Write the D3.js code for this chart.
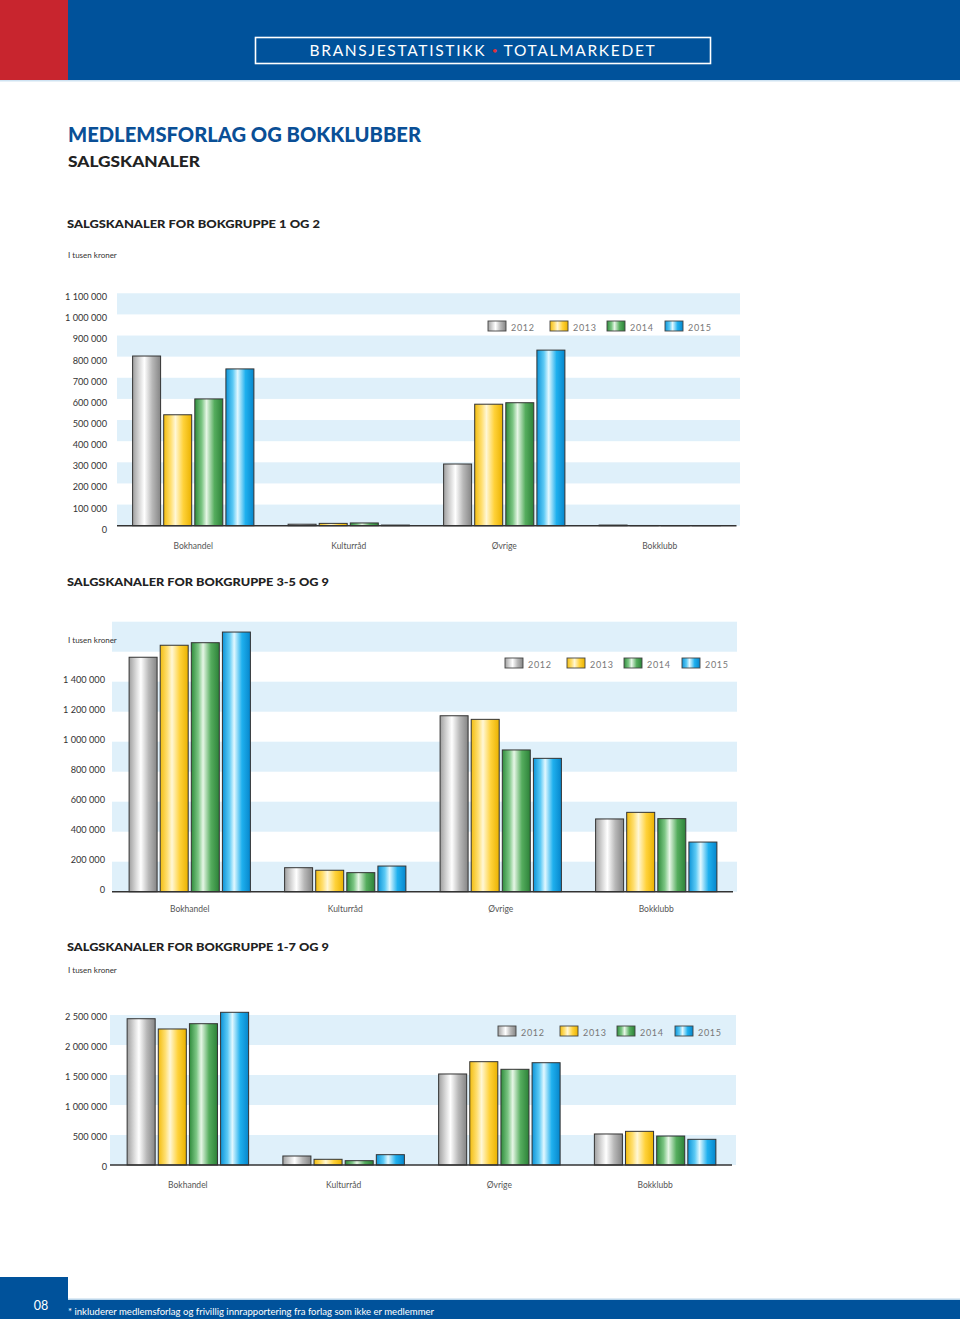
<!DOCTYPE html>
<html><head><meta charset="utf-8">
<script src="https://cdn.jsdelivr.net/npm/d3@7/dist/d3.min.js"></script>
<style>
html,body{margin:0;padding:0;background:#fff;}
svg{display:block;font-family:Lato,"Open Sans",sans-serif;}
</style></head>
<body>
<svg id="c" width="960" height="1319"></svg>
<script>
// ---------- DATA ----------
const categories = ["Bokhandel", "Kulturråd", "Øvrige", "Bokklubb"];
const years = ["2012", "2013", "2014", "2015"];

// Chart 1: Bokgruppe 1 og 2 (i tusen kroner)
const g12_2012 = [803000, 7000, 292000, 3000];
const g12_2013 = [525000, 11000, 575000, 1000];
const g12_2014 = [600000, 13000, 582000, 800];
const g12_2015 = [742000, 3000, 831000, 800];
const ticks1 = [0, 100000, 200000, 300000, 400000, 500000, 600000, 700000, 800000, 900000, 1000000, 1100000];

// Chart 2: Bokgruppe 3-5 og 9
const g359_2012 = [1563000, 160000, 1173000, 485000];
const g359_2013 = [1643000, 143000, 1149000, 529000];
const g359_2014 = [1660000, 127000, 945000, 487000];
const g359_2015 = [1731000, 171000, 889000, 331000];
const ticks2 = [0, 200000, 400000, 600000, 800000, 1000000, 1200000, 1400000];

// Chart 3: Bokgruppe 1-7 og 9
const g179_2012 = [2438000, 150000, 1517000, 517000];
const g179_2013 = [2267000, 95000, 1722000, 561000];
const g179_2014 = [2355000, 72000, 1595000, 483000];
const g179_2015 = [2545000, 172000, 1705000, 428000];
const ticks3 = [0, 500000, 1000000, 1500000, 2000000, 2500000];

// ---------- STYLE ----------
const BLUE = "#00529b", RED = "#c8252e", STRIPE = "#dff0fa";
const grads = {
  "2012": ["#a0a0a0", "#dadada", "#ffffff", "#b8b8b8", "#858585"],
  "2013": ["#f2bd10", "#ffdf70", "#fff7d6", "#ffd23a", "#eab200"],
  "2014": ["#2f8c3c", "#7cc684", "#e6f6e6", "#55ad5e", "#2c8238"],
  "2015": ["#0c94d8", "#5ccaf5", "#e2f8ff", "#1fb0ee", "#0686cc"]
};
const fmt = d3.formatLocale({decimal: ",", thousands: " ", grouping: [3], currency: ["", ""]}).format(",");

const svg = d3.select("#c");
const defs = svg.append("defs");
years.forEach(y => {
  const g = defs.append("linearGradient").attr("id", "g" + y)
    .attr("x1", "0%").attr("x2", "100%").attr("y1", "0%").attr("y2", "0%");
  const off = [0, 0.25, 0.42, 0.7, 1];
  grads[y].forEach((c, i) => g.append("stop").attr("offset", off[i]).attr("stop-color", c));
});

// ---------- HEADER ----------
svg.append("rect").attr("x", 0).attr("y", 0).attr("width", 960).attr("height", 80).attr("fill", BLUE);
svg.append("rect").attr("x", 0).attr("y", 0).attr("width", 68).attr("height", 80).attr("fill", RED);
svg.append("rect").attr("x", 0).attr("y", 80).attr("width", 960).attr("height", 1.5).attr("fill", "#cfe3f2");
svg.append("rect").attr("x", 255.5).attr("y", 37.5).attr("width", 455).attr("height", 26)
  .attr("fill", "none").attr("stroke", "#fff").attr("stroke-width", 1.6);
const ht = svg.append("text").attr("x", 483).attr("y", 56).attr("text-anchor", "middle")
  .attr("fill", "#fff").attr("font-size", 15.5).style("letter-spacing", "1.7px");
ht.append("tspan").text("BRANSJESTATISTIKK ");
ht.append("tspan").attr("fill", "#e0303a").attr("font-size", 10).attr("dy", -2).text(" • ");
ht.append("tspan").attr("dy", 2).text(" TOTALMARKEDET");

// ---------- TITLES ----------
svg.append("text").attr("x", 68).attr("y", 142).attr("fill", "#0a4f96").attr("font-weight", 900)
  .attr("font-size", 20).attr("textLength", 353).attr("lengthAdjust", "spacingAndGlyphs")
  .text("MEDLEMSFORLAG OG BOKKLUBBER");
svg.append("text").attr("x", 68).attr("y", 167).attr("fill", "#222").attr("font-weight", 900)
  .attr("font-size", 15).attr("textLength", 132).attr("lengthAdjust", "spacingAndGlyphs")
  .text("SALGSKANALER");

// ---------- FOOTER ----------
svg.append("rect").attr("x", 0).attr("y", 1277).attr("width", 68).attr("height", 42).attr("fill", BLUE);
svg.append("rect").attr("x", 0).attr("y", 1300).attr("width", 960).attr("height", 19).attr("fill", BLUE);
svg.append("rect").attr("x", 68).attr("y", 1298.5).attr("width", 892).attr("height", 1.5).attr("fill", "#bcd6ea");
svg.append("text").attr("x", 41).attr("y", 1310).attr("text-anchor", "middle").attr("fill", "#fff")
  .attr("font-size", 12.5).text("08");
svg.append("text").attr("x", 68).attr("y", 1315).attr("fill", "#fff").attr("font-size", 9.5)
  .attr("textLength", 366).attr("lengthAdjust", "spacingAndGlyphs")
  .text("* inkluderer medlemsforlag og frivillig innrapportering fra forlag som ikke er medlemmer");

// ---------- CHART FUNCTION ----------
function chart(o) {
  const series = o.series; // array per year
  const rows = categories.map((c, i) => ({cat: c, vals: years.map((y, j) => ({year: y, v: series[j][i]}))}));
  const y = d3.scaleLinear().domain([0, o.step]).range([o.zeroY, o.zeroY - o.stepPx]);
  const x0 = d3.scaleBand().domain(categories).range([o.x0, o.x1]).paddingInner(0.22).paddingOuter(0.11);
  const x1 = d3.scaleBand().domain(years).range([0, x0.bandwidth()]).paddingInner(0.1);

  const g = svg.append("g");
  // title
  g.append("text").attr("x", 67).attr("y", o.titleY).attr("fill", "#222").attr("font-weight", 900)
    .attr("font-size", 12).attr("textLength", o.titleW).attr("lengthAdjust", "spacingAndGlyphs").text(o.title);
  // stripes
  const bands = d3.range(0, o.nBands, 2);
  g.selectAll("rect.stripe").data(bands).join("rect").attr("class", "stripe")
    .attr("x", o.sx0).attr("width", o.sx1 - o.sx0)
    .attr("y", d => y((d + 1) * o.step)).attr("height", d => y(d * o.step) - y((d + 1) * o.step))
    .attr("fill", STRIPE);
  // unit label
  g.append("text").attr("x", 68).attr("y", o.unitY).attr("fill", "#333").attr("font-size", 8).text("I tusen kroner");
  // y axis labels
  const ax = g.append("g").attr("transform", `translate(${o.labelX},${o.labelDy})`)
    .call(d3.axisLeft(y).tickValues(o.ticks).tickFormat(fmt).tickSize(0).tickPadding(0));
  ax.select(".domain").remove();
  ax.selectAll("text").attr("font-family", "Lato, sans-serif").attr("font-size", 9.2).attr("fill", "#333");
  // bars
  const grp = g.selectAll("g.cat").data(rows).join("g").attr("class", "cat")
    .attr("transform", d => `translate(${x0(d.cat)},0)`);
  grp.selectAll("rect").data(d => d.vals).join("rect")
    .attr("x", d => x1(d.year)).attr("width", x1.bandwidth())
    .attr("y", d => y(d.v)).attr("height", d => y(0) - y(d.v))
    .attr("fill", d => `url(#g${d.year})`).attr("stroke", "#333").attr("stroke-width", 1);
  // axis line
  g.append("line").attr("x1", o.sx0).attr("x2", o.x1 - 1).attr("y1", y(0)).attr("y2", y(0))
    .attr("stroke", "#333").attr("stroke-width", 1.4);
  // category labels
  g.selectAll("text.cat").data(categories).join("text").attr("class", "cat")
    .attr("x", d => x0(d) + x0.bandwidth() / 2).attr("y", y(0) + o.catDy)
    .attr("text-anchor", "middle").attr("font-size", 8.5).attr("fill", "#555").text(d => d);
  // legend
  const offs = [0, 62, 119, 177];
  const lg = g.selectAll("g.leg").data(years).join("g").attr("class", "leg")
    .attr("transform", (d, i) => `translate(${o.legX + offs[i]},${o.legY})`);
  lg.append("rect").attr("x", 0).attr("y", -5).attr("width", 18).attr("height", 10)
    .attr("fill", d => `url(#g${d})`).attr("stroke", "#444").attr("stroke-width", 0.9);
  lg.append("text").attr("x", 23).attr("y", 4.5).attr("font-size", 9).attr("fill", "#777")
    .style("letter-spacing", "0.7px").text(d => d);
}

chart({
  title: "SALGSKANALER FOR BOKGRUPPE 1 OG 2", titleY: 228, titleW: 253, unitY: 258,
  series: [g12_2012, g12_2013, g12_2014, g12_2015], ticks: ticks1,
  step: 100000, nBands: 11, zeroY: 525.7, stepPx: 21.13,
  x0: 115.5, x1: 737.5, sx0: 117, sx1: 740, labelX: 107, labelDy: 3.5, catDy: 23.5,
  legX: 488, legY: 326
});
chart({
  title: "SALGSKANALER FOR BOKGRUPPE 3-5 OG 9", titleY: 586, titleW: 262, unitY: 643,
  series: [g359_2012, g359_2013, g359_2014, g359_2015], ticks: ticks2,
  step: 200000, nBands: 9, zeroY: 891.7, stepPx: 30,
  x0: 112, x1: 734, sx0: 112, sx1: 737, labelX: 105, labelDy: -2.5, catDy: 20,
  legX: 505, legY: 663
});
chart({
  title: "SALGSKANALER FOR BOKGRUPPE 1-7 OG 9", titleY: 951, titleW: 262, unitY: 973,
  series: [g179_2012, g179_2013, g179_2014, g179_2015], ticks: ticks3,
  step: 500000, nBands: 5, zeroY: 1165, stepPx: 30,
  x0: 110, x1: 733, sx0: 110, sx1: 736, labelX: 107, labelDy: 2, catDy: 22.5,
  legX: 498, legY: 1031
});
</script>
</body></html>
